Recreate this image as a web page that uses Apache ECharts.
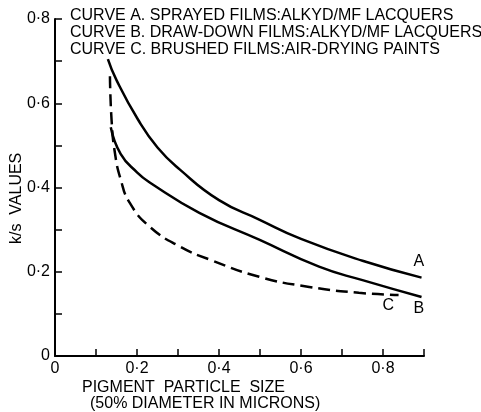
<!DOCTYPE html>
<html>
<head>
<meta charset="utf-8">
<script src="https://cdn.jsdelivr.net/npm/echarts@6/dist/echarts.min.js"></script>
<style>
  html, body { margin: 0; padding: 0; background: #fff; }
  #chart { width: 481px; height: 412px; }
</style>
</head>
<body>
<div id="chart"></div>
<script>
// Particle size (microns) and k/s values for each curve
const curveA_x = [0.129, 0.15, 0.202, 0.25, 0.304, 0.4, 0.498, 0.6, 0.75, 0.894];
const curveA_y = [0.705, 0.655, 0.562, 0.495, 0.443, 0.37, 0.324, 0.278, 0.226, 0.186];

const curveB_x = [0.136, 0.16, 0.2, 0.231, 0.352, 0.498, 0.644, 0.75, 0.894];
const curveB_y = [0.543, 0.48, 0.436, 0.412, 0.340, 0.276, 0.212, 0.18, 0.140];

const curveC_x = [0.134, 0.138, 0.146, 0.16, 0.182, 0.231, 0.304, 0.377, 0.498, 0.62, 0.741, 0.838];
const curveC_y = [0.664, 0.56, 0.483, 0.42, 0.364, 0.307, 0.26, 0.229, 0.188, 0.164, 0.15, 0.145];

const curveNames = ['A', 'B', 'C'];
const legendLines = [
  'CURVE A. SPRAYED FILMS:ALKYD/MF LACQUERS',
  'CURVE B. DRAW-DOWN FILMS:ALKYD/MF LACQUERS',
  'CURVE C. BRUSHED FILMS:AIR-DRYING PAINTS'
];
const xTitle = ['PIGMENT  PARTICLE  SIZE', '(50% DIAMETER IN MICRONS)'];
const yTitle = 'k/s  VALUES';

const FONT = '"Liberation Sans", "DejaVu Sans", sans-serif';
const pair = (xs, ys) => xs.map((x, i) => [x, ys[i]]);

// Tick labels use a raised decimal point, e.g. 0·2
function tickLabel(v) {
  const tenths = Math.round(v * 10);
  if (tenths % 2 !== 0) return '';
  if (tenths === 0) return '0';
  return '0\u00b7' + tenths;
}

const axisCommon = {
  type: 'value',
  min: 0,
  interval: 0.1,
  axisLine: { show: true, onZero: false, lineStyle: { color: '#000', width: 2 } },
  axisTick: { show: true, inside: true, length: 7, lineStyle: { color: '#000', width: 1.5 } },
  splitLine: { show: false },
  axisLabel: {
    color: '#000', fontSize: 16, fontFamily: FONT,
    formatter: tickLabel, showMaxLabel: true, showMinLabel: true
  }
};

const chart = echarts.init(document.getElementById('chart'));

function curveSeries(name, data, dashed, labelOffset) {
  return {
    name: name,
    type: 'line',
    data: data,
    smooth: 0.5,
    showSymbol: false,
    symbol: 'none',
    animation: false,
    lineStyle: { color: '#000', width: 2.5, type: dashed ? [12, 6] : 'solid' },
    endLabel: {
      show: true,
      formatter: name,
      color: '#000',
      fontSize: 16,
      fontFamily: FONT,
      offset: labelOffset
    }
  };
}

chart.setOption({
  backgroundColor: '#fff',
  animation: false,
  grid: { left: 55, right: 57, top: 19, bottom: 56, containLabel: false },
  xAxis: Object.assign({}, axisCommon, {
    max: 0.9,
    axisLabel: Object.assign({}, axisCommon.axisLabel, { margin: 5 })
  }),
  yAxis: Object.assign({}, axisCommon, {
    max: 0.8,
    axisLabel: Object.assign({}, axisCommon.axisLabel, { margin: 5 })
  }),
  series: [
    curveSeries(curveNames[0], pair(curveA_x, curveA_y), false, [-16, -16]),
    curveSeries(curveNames[1], pair(curveB_x, curveB_y), false, [-16, 12]),
    curveSeries(curveNames[2], pair(curveC_x, curveC_y), true, [-24, 11])
  ],
  graphic: [
    {
      type: 'group',
      left: 70, top: 8,
      children: legendLines.map((t, i) => ({
        type: 'text',
        x: 0, y: i * 17,
        style: { text: t, fill: '#000', font: '16px ' + FONT }
      }))
    },
    {
      type: 'text',
      left: 82, top: 380,
      style: { text: xTitle[0], fill: '#000', font: '16px ' + FONT }
    },
    {
      type: 'text',
      left: 90, top: 396,
      style: { text: xTitle[1], fill: '#000', font: '16px ' + FONT }
    },
    {
      type: 'text',
      x: 9, y: 244,
      rotation: Math.PI / 2,
      style: { text: yTitle, fill: '#000', font: '16px ' + FONT }
    }
  ]
});
</script>
</body>
</html>
